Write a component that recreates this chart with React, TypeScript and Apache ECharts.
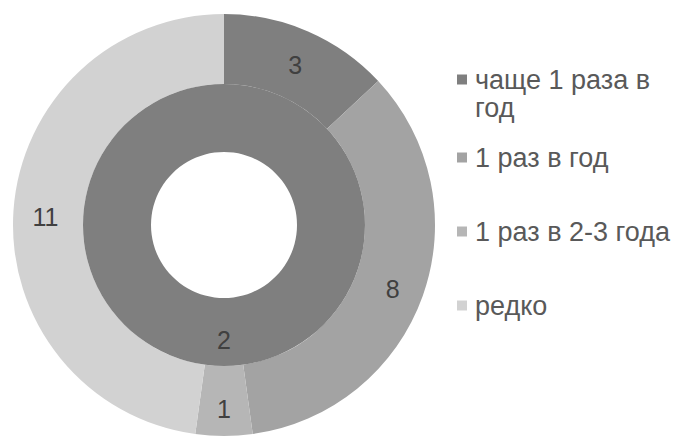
import React, { useEffect, useRef } from "react";
import * as echarts from "echarts";

const categories = ["чаще 1 раза в год", "1 раз в год", "1 раз в 2-3 года", "редко"];
const outerValues = [3, 8, 1, 11];
const innerCategories = ["чаще 1 раза в год"];
const innerValues = [2];
const colors = ["#7f7f7f", "#a3a3a3", "#b6b6b6", "#d2d2d2"];
const legendLabels = ["чаще 1 раза в", "1 раз в год", "1 раз в 2-3 года", "редко"];
const legendTops = [61, 139, 213, 287];

export default function App() {
  const ref = useRef<HTMLDivElement>(null);
  useEffect(() => {
    if (!ref.current) return;
    const chart = echarts.init(ref.current, undefined, { renderer: "svg" });
    const font = "'Liberation Sans', Arial, sans-serif";
    const labelStyle = {
      show: true,
      position: "inside",
      formatter: "{a|{c}}",
      fontSize: 25,
      color: "#404040",
      fontFamily: font,
      rich: {
        a: {
          fontSize: 25,
          color: "#404040",
          fontFamily: font,
          lineHeight: 34,
          verticalAlign: "bottom",
        },
      },
    };
    chart.setOption({
      animation: false,
      backgroundColor: "#ffffff",
      legend: categories.map((c, i) => ({
        data: [c],
        left: 452,
        top: legendTops[i],
        orient: "vertical",
        itemWidth: 10,
        itemHeight: 10,
        icon: "rect",
        formatter: () => legendLabels[i],
        textStyle: { fontSize: 27, color: "#595959", fontFamily: font, padding: [0, 0, 0, 3] },
        selectedMode: false,
      })),
      graphic: [
        {
          type: "text",
          left: 475,
          top: 94,
          style: { text: "год", fontSize: 27, fill: "#595959", fontFamily: font },
        },
      ],
      series: [
        {
          type: "pie",
          center: [224, 225],
          radius: [141, 211],
          startAngle: 90,
          clockwise: true,
          avoidLabelOverlap: false,
          label: labelStyle,
          labelLine: { show: false },
          emphasis: { disabled: true },
          itemStyle: { borderWidth: 0 },
          data: categories.map((c, i) => ({ name: c, value: outerValues[i], itemStyle: { color: colors[i] } })),
        },
        {
          type: "pie",
          center: [224, 225],
          radius: [73, 141],
          startAngle: 90,
          clockwise: true,
          avoidLabelOverlap: false,
          label: labelStyle,
          labelLine: { show: false },
          emphasis: { disabled: true },
          itemStyle: { borderWidth: 0 },
          data: innerCategories.map((c, i) => ({ name: c, value: innerValues[i], itemStyle: { color: colors[0] } })),
        },
      ],
    });
    return () => chart.dispose();
  }, []);
  return <div ref={ref} style={{ width: 673, height: 437, position: "absolute", left: 0, top: 0 }} />;
}
